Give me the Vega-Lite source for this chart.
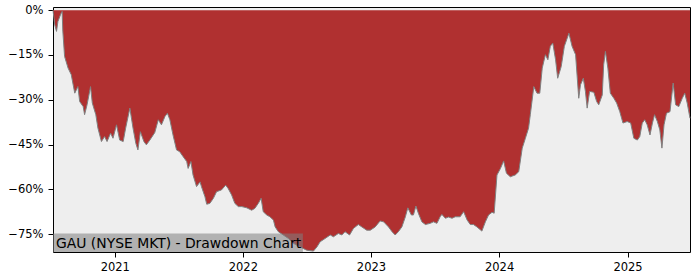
{
  "$schema": "https://vega.github.io/schema/vega-lite/v6.json",
  "width": 637,
  "height": 245,
  "autosize": {"type": "none"},
  "padding": {"left": 53, "top": 7, "right": 10, "bottom": 28},
  "background": "white",
  "config": {
    "font": "DejaVu Sans",
    "view": {"stroke": "black", "strokeWidth": 1, "fill": "#EEEEEE"},
    "axis": {"labelFont": "DejaVu Sans", "labelFontSize": 11.5, "labelColor": "black", "tickColor": "black", "tickSize": 5, "domain": false, "grid": false, "labelPadding": 4}
  },
  "datasets": {
    "series": [
    {"date": "2020-07-09", "dd": 0},
    {"date": "2020-07-14", "dd": -0.049},
    {"date": "2020-07-19", "dd": -0.071},
    {"date": "2020-07-23", "dd": -0.038},
    {"date": "2020-07-31", "dd": -0.013},
    {"date": "2020-08-04", "dd": -0.004},
    {"date": "2020-08-06", "dd": -0.07},
    {"date": "2020-08-11", "dd": -0.155},
    {"date": "2020-08-21", "dd": -0.194},
    {"date": "2020-08-30", "dd": -0.216},
    {"date": "2020-09-09", "dd": -0.278},
    {"date": "2020-09-18", "dd": -0.256},
    {"date": "2020-09-23", "dd": -0.306},
    {"date": "2020-10-03", "dd": -0.323},
    {"date": "2020-10-07", "dd": -0.35},
    {"date": "2020-10-14", "dd": -0.317},
    {"date": "2020-10-24", "dd": -0.256},
    {"date": "2020-10-29", "dd": -0.311},
    {"date": "2020-11-08", "dd": -0.35},
    {"date": "2020-11-14", "dd": -0.395},
    {"date": "2020-11-24", "dd": -0.44},
    {"date": "2020-12-03", "dd": -0.423},
    {"date": "2020-12-10", "dd": -0.44},
    {"date": "2020-12-20", "dd": -0.412},
    {"date": "2020-12-27", "dd": -0.429},
    {"date": "2021-01-06", "dd": -0.384},
    {"date": "2021-01-15", "dd": -0.435},
    {"date": "2021-01-25", "dd": -0.44},
    {"date": "2021-02-01", "dd": -0.395},
    {"date": "2021-02-13", "dd": -0.328},
    {"date": "2021-02-22", "dd": -0.395},
    {"date": "2021-03-02", "dd": -0.446},
    {"date": "2021-03-08", "dd": -0.468},
    {"date": "2021-03-15", "dd": -0.407},
    {"date": "2021-03-25", "dd": -0.44},
    {"date": "2021-04-01", "dd": -0.451},
    {"date": "2021-04-11", "dd": -0.435},
    {"date": "2021-04-25", "dd": -0.41},
    {"date": "2021-05-05", "dd": -0.367},
    {"date": "2021-05-14", "dd": -0.384},
    {"date": "2021-05-24", "dd": -0.356},
    {"date": "2021-05-31", "dd": -0.345},
    {"date": "2021-06-07", "dd": -0.367},
    {"date": "2021-06-16", "dd": -0.418},
    {"date": "2021-06-26", "dd": -0.468},
    {"date": "2021-07-05", "dd": -0.474},
    {"date": "2021-07-15", "dd": -0.491},
    {"date": "2021-07-25", "dd": -0.507},
    {"date": "2021-07-29", "dd": -0.53},
    {"date": "2021-08-06", "dd": -0.507},
    {"date": "2021-08-12", "dd": -0.552},
    {"date": "2021-08-22", "dd": -0.591},
    {"date": "2021-09-01", "dd": -0.575},
    {"date": "2021-09-05", "dd": -0.591},
    {"date": "2021-09-15", "dd": -0.625},
    {"date": "2021-09-20", "dd": -0.65},
    {"date": "2021-09-29", "dd": -0.647},
    {"date": "2021-10-09", "dd": -0.63},
    {"date": "2021-10-18", "dd": -0.608},
    {"date": "2021-11-01", "dd": -0.602},
    {"date": "2021-11-13", "dd": -0.586},
    {"date": "2021-11-20", "dd": -0.597},
    {"date": "2021-11-30", "dd": -0.619},
    {"date": "2021-12-09", "dd": -0.647},
    {"date": "2021-12-19", "dd": -0.658},
    {"date": "2021-12-29", "dd": -0.658},
    {"date": "2022-01-12", "dd": -0.662},
    {"date": "2022-01-26", "dd": -0.67},
    {"date": "2022-02-04", "dd": -0.664},
    {"date": "2022-02-14", "dd": -0.647},
    {"date": "2022-02-22", "dd": -0.63},
    {"date": "2022-02-28", "dd": -0.675},
    {"date": "2022-03-10", "dd": -0.686},
    {"date": "2022-03-19", "dd": -0.692},
    {"date": "2022-03-29", "dd": -0.703},
    {"date": "2022-04-03", "dd": -0.726},
    {"date": "2022-04-12", "dd": -0.742},
    {"date": "2022-04-26", "dd": -0.753},
    {"date": "2022-05-11", "dd": -0.765},
    {"date": "2022-05-25", "dd": -0.781},
    {"date": "2022-06-13", "dd": -0.793},
    {"date": "2022-07-02", "dd": -0.804},
    {"date": "2022-07-21", "dd": -0.807},
    {"date": "2022-07-31", "dd": -0.793},
    {"date": "2022-08-09", "dd": -0.776},
    {"date": "2022-08-23", "dd": -0.765},
    {"date": "2022-09-07", "dd": -0.753},
    {"date": "2022-09-16", "dd": -0.759},
    {"date": "2022-09-30", "dd": -0.748},
    {"date": "2022-10-10", "dd": -0.753},
    {"date": "2022-10-19", "dd": -0.742},
    {"date": "2022-11-01", "dd": -0.753},
    {"date": "2022-11-12", "dd": -0.731},
    {"date": "2022-11-26", "dd": -0.718},
    {"date": "2022-12-06", "dd": -0.726},
    {"date": "2022-12-20", "dd": -0.737},
    {"date": "2022-12-30", "dd": -0.737},
    {"date": "2023-01-13", "dd": -0.726},
    {"date": "2023-01-27", "dd": -0.706},
    {"date": "2023-02-06", "dd": -0.709},
    {"date": "2023-02-20", "dd": -0.726},
    {"date": "2023-03-02", "dd": -0.742},
    {"date": "2023-03-11", "dd": -0.753},
    {"date": "2023-03-20", "dd": -0.742},
    {"date": "2023-03-30", "dd": -0.726},
    {"date": "2023-04-09", "dd": -0.692},
    {"date": "2023-04-16", "dd": -0.662},
    {"date": "2023-04-26", "dd": -0.686},
    {"date": "2023-05-02", "dd": -0.686},
    {"date": "2023-05-09", "dd": -0.656},
    {"date": "2023-05-16", "dd": -0.68},
    {"date": "2023-05-26", "dd": -0.709},
    {"date": "2023-06-05", "dd": -0.718},
    {"date": "2023-06-19", "dd": -0.714},
    {"date": "2023-06-28", "dd": -0.709},
    {"date": "2023-07-08", "dd": -0.714},
    {"date": "2023-07-17", "dd": -0.692},
    {"date": "2023-07-22", "dd": -0.684},
    {"date": "2023-08-01", "dd": -0.697},
    {"date": "2023-08-10", "dd": -0.693},
    {"date": "2023-08-20", "dd": -0.697},
    {"date": "2023-08-29", "dd": -0.692},
    {"date": "2023-09-12", "dd": -0.692},
    {"date": "2023-09-22", "dd": -0.675},
    {"date": "2023-10-02", "dd": -0.703},
    {"date": "2023-10-11", "dd": -0.718},
    {"date": "2023-10-20", "dd": -0.718},
    {"date": "2023-10-30", "dd": -0.726},
    {"date": "2023-11-13", "dd": -0.74},
    {"date": "2023-11-23", "dd": -0.709},
    {"date": "2023-12-02", "dd": -0.686},
    {"date": "2023-12-12", "dd": -0.677},
    {"date": "2023-12-18", "dd": -0.68},
    {"date": "2023-12-26", "dd": -0.552},
    {"date": "2024-01-05", "dd": -0.53},
    {"date": "2024-01-14", "dd": -0.505},
    {"date": "2024-01-22", "dd": -0.546},
    {"date": "2024-02-02", "dd": -0.558},
    {"date": "2024-02-16", "dd": -0.552},
    {"date": "2024-02-26", "dd": -0.541},
    {"date": "2024-03-07", "dd": -0.462},
    {"date": "2024-03-16", "dd": -0.429},
    {"date": "2024-03-25", "dd": -0.395},
    {"date": "2024-03-30", "dd": -0.35},
    {"date": "2024-04-09", "dd": -0.256},
    {"date": "2024-04-18", "dd": -0.278},
    {"date": "2024-04-26", "dd": -0.278},
    {"date": "2024-05-03", "dd": -0.194},
    {"date": "2024-05-12", "dd": -0.149},
    {"date": "2024-05-19", "dd": -0.166},
    {"date": "2024-05-26", "dd": -0.121},
    {"date": "2024-06-02", "dd": -0.11},
    {"date": "2024-06-10", "dd": -0.166},
    {"date": "2024-06-16", "dd": -0.228},
    {"date": "2024-06-26", "dd": -0.189},
    {"date": "2024-07-05", "dd": -0.121},
    {"date": "2024-07-18", "dd": -0.077},
    {"date": "2024-07-27", "dd": -0.121},
    {"date": "2024-08-06", "dd": -0.149},
    {"date": "2024-08-15", "dd": -0.295},
    {"date": "2024-08-20", "dd": -0.25},
    {"date": "2024-08-28", "dd": -0.228},
    {"date": "2024-09-03", "dd": -0.272},
    {"date": "2024-09-08", "dd": -0.328},
    {"date": "2024-09-15", "dd": -0.272},
    {"date": "2024-09-27", "dd": -0.275},
    {"date": "2024-10-05", "dd": -0.306},
    {"date": "2024-10-11", "dd": -0.317},
    {"date": "2024-10-21", "dd": -0.284},
    {"date": "2024-10-25", "dd": -0.183},
    {"date": "2024-10-30", "dd": -0.138},
    {"date": "2024-11-06", "dd": -0.194},
    {"date": "2024-11-13", "dd": -0.278},
    {"date": "2024-11-23", "dd": -0.295},
    {"date": "2024-12-01", "dd": -0.311},
    {"date": "2024-12-10", "dd": -0.34},
    {"date": "2024-12-19", "dd": -0.378},
    {"date": "2024-12-31", "dd": -0.373},
    {"date": "2025-01-10", "dd": -0.378},
    {"date": "2025-01-19", "dd": -0.429},
    {"date": "2025-01-29", "dd": -0.435},
    {"date": "2025-02-05", "dd": -0.423},
    {"date": "2025-02-12", "dd": -0.378},
    {"date": "2025-02-19", "dd": -0.367},
    {"date": "2025-02-26", "dd": -0.384},
    {"date": "2025-03-06", "dd": -0.418},
    {"date": "2025-03-13", "dd": -0.378},
    {"date": "2025-03-19", "dd": -0.35},
    {"date": "2025-03-27", "dd": -0.373},
    {"date": "2025-04-03", "dd": -0.401},
    {"date": "2025-04-09", "dd": -0.462},
    {"date": "2025-04-15", "dd": -0.384},
    {"date": "2025-04-22", "dd": -0.345},
    {"date": "2025-05-02", "dd": -0.34},
    {"date": "2025-05-11", "dd": -0.244},
    {"date": "2025-05-18", "dd": -0.317},
    {"date": "2025-05-27", "dd": -0.323},
    {"date": "2025-06-06", "dd": -0.295},
    {"date": "2025-06-13", "dd": -0.278},
    {"date": "2025-06-20", "dd": -0.311},
    {"date": "2025-06-28", "dd": -0.362}
    ],
    "caption": [{"label": "GAU (NYSE MKT) - Drawdown Chart"}]
  },
  "layer": [
    {
      "data": {"name": "series"},
      "mark": {"type": "area", "color": "#B03030", "opacity": 1},
      "encoding": {
        "x": {
          "field": "date", "type": "temporal",
          "scale": {"domain": ["2020-07-09", "2025-06-28"], "nice": false},
          "axis": {"title": null, "format": "%Y", "tickCount": {"interval": "year", "step": 1}, "labelFlush": false}
        },
        "y": {
          "field": "dd", "type": "quantitative",
          "scale": {"domain": [-0.81, 0.0107], "nice": false, "zero": false},
          "axis": {"title": null, "format": ".0%", "values": [0, -0.15, -0.3, -0.45, -0.6, -0.75], "labelPadding": 5}
        },
        "y2": {"datum": 0}
      }
    },
    {
      "data": {"name": "series"},
      "mark": {"type": "line", "color": "#808080", "strokeWidth": 1},
      "encoding": {
        "x": {"field": "date", "type": "temporal"},
        "y": {"field": "dd", "type": "quantitative"}
      }
    },
    {
      "data": {"name": "caption"},
      "mark": {"type": "rect", "color": "#808080", "opacity": 0.55},
      "encoding": {
        "x": {"datum": {"year": 2020, "month": 7, "date": 9}, "type": "temporal"},
        "x2": {"datum": {"year": 2022, "month": 6, "date": 21}},
        "y": {"datum": -0.7477, "type": "quantitative"},
        "y2": {"datum": -0.81}
      }
    },
    {
      "data": {"name": "caption"},
      "mark": {"type": "text", "align": "left", "baseline": "alphabetic", "fontSize": 13.9, "font": "DejaVu Sans", "color": "black", "dx": 3},
      "encoding": {
        "x": {"datum": {"year": 2020, "month": 7, "date": 9}, "type": "temporal"},
        "y": {"datum": -0.795, "type": "quantitative"},
        "text": {"field": "label"}
      }
    }
  ]
}
